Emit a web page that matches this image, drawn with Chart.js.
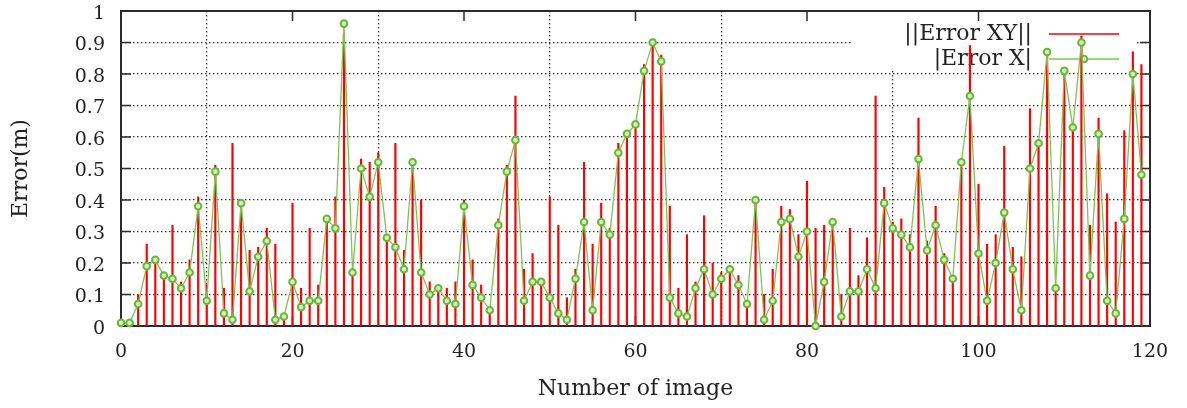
<!DOCTYPE html>
<html>
<head>
<meta charset="utf-8">
<title>Error per image</title>
<script src="https://cdn.jsdelivr.net/npm/chart.js@4/dist/chart.umd.min.js"></script>
<style>
    html, body { margin: 0; padding: 0; background: #fff; }
    #wrap { width: 1187px; height: 408px; }
</style>
</head>
<body>
<div id="wrap"><canvas id="error-chart" width="1187" height="408"></canvas></div>
<script>
// --- Data ---
const imageNumbers = Array.from({ length: 120 }, (_, i) => i);

// ||Error XY|| (red impulses)
const errorXY = [
    0.01, 0.02, 0.10, 0.26, 0.20, 0.16, 0.32, 0.14, 0.21, 0.41,
    0.13, 0.51, 0.12, 0.58, 0.39, 0.24, 0.25, 0.31, 0.26, 0.03,
    0.39, 0.12, 0.31, 0.13, 0.34, 0.41, 0.93, 0.17, 0.53, 0.52,
    0.55, 0.28, 0.58, 0.24, 0.51, 0.40, 0.14, 0.13, 0.12, 0.14,
    0.40, 0.21, 0.13, 0.05, 0.34, 0.51, 0.73, 0.18, 0.23, 0.14,
    0.41, 0.32, 0.09, 0.18, 0.52, 0.26, 0.39, 0.31, 0.58, 0.61,
    0.64, 0.83, 0.90, 0.86, 0.38, 0.12, 0.29, 0.14, 0.35, 0.20,
    0.17, 0.18, 0.16, 0.07, 0.40, 0.10, 0.18, 0.38, 0.37, 0.29,
    0.46, 0.31, 0.32, 0.33, 0.10, 0.31, 0.16, 0.28, 0.73, 0.44,
    0.33, 0.34, 0.29, 0.66, 0.27, 0.38, 0.23, 0.15, 0.52, 0.89,
    0.45, 0.26, 0.29, 0.57, 0.25, 0.22, 0.69, 0.58, 0.87, 0.12,
    0.81, 0.63, 0.92, 0.32, 0.66, 0.42, 0.33, 0.62, 0.87, 0.83
];

// |Error X| (green line with points)
const errorX = [
    0.01, 0.01, 0.07, 0.19, 0.21, 0.16, 0.15, 0.12, 0.17, 0.38,
    0.08, 0.49, 0.04, 0.02, 0.39, 0.11, 0.22, 0.27, 0.02, 0.03,
    0.14, 0.06, 0.08, 0.08, 0.34, 0.31, 0.96, 0.17, 0.50, 0.41,
    0.52, 0.28, 0.25, 0.18, 0.52, 0.17, 0.10, 0.12, 0.08, 0.07,
    0.38, 0.13, 0.09, 0.05, 0.32, 0.49, 0.59, 0.08, 0.14, 0.14,
    0.09, 0.04, 0.02, 0.15, 0.33, 0.05, 0.33, 0.29, 0.55, 0.61,
    0.64, 0.81, 0.90, 0.84, 0.09, 0.04, 0.03, 0.12, 0.18, 0.10,
    0.15, 0.18, 0.13, 0.07, 0.40, 0.02, 0.08, 0.33, 0.34, 0.22,
    0.30, 0.00, 0.14, 0.33, 0.03, 0.11, 0.11, 0.18, 0.12, 0.39,
    0.31, 0.29, 0.25, 0.53, 0.24, 0.32, 0.21, 0.15, 0.52, 0.73,
    0.23, 0.08, 0.20, 0.36, 0.18, 0.05, 0.50, 0.58, 0.87, 0.12,
    0.81, 0.63, 0.90, 0.16, 0.61, 0.08, 0.04, 0.34, 0.80, 0.48
];

const seriesLabels = ['||Error XY||', '|Error X|'];
const xTitle = 'Number of image';
const yTitle = 'Error(m)';

document.addEventListener('DOMContentLoaded', () => {
    const RED = '#ff0000';
    const GREEN_LINE = '#7cc552';
    const GREEN_POINT = '#66b833';
    const POINT_FILL = '#d6ecc4';
    const FRAME = '#2b2b2b';
    const SERIF = '"DejaVu Serif", serif';

    /**
     * Draws the opaque key box, frame, inward ticks and the key entries
     * after the grid but before the data.
     */
    const framePlugin = {
        id: 'gnuplotFrame',
        beforeDatasetsDraw(chart) {
            const { ctx, chartArea: a, scales } = chart;
            ctx.save();

            // opaque key box hides the grid behind it
            ctx.fillStyle = '#fff';
            ctx.fillRect(852, a.top + 1, 283, 58);

            // border
            ctx.strokeStyle = FRAME;
            ctx.lineWidth = 2;
            ctx.strokeRect(a.left, a.top, a.right - a.left, a.bottom - a.top);

            // inward major ticks on all four sides
            const len = 10;
            ctx.lineWidth = 1.5;
            ctx.beginPath();
            scales.x.ticks.forEach(t => {
                const px = scales.x.getPixelForValue(t.value);
                ctx.moveTo(px, a.bottom); ctx.lineTo(px, a.bottom - len);
                ctx.moveTo(px, a.top); ctx.lineTo(px, a.top + len);
            });
            scales.y.ticks.forEach(t => {
                const py = scales.y.getPixelForValue(t.value);
                ctx.moveTo(a.left, py); ctx.lineTo(a.left + len, py);
                ctx.moveTo(a.right, py); ctx.lineTo(a.right - len, py);
            });
            ctx.stroke();

            // key entries
            const textRight = 1032;
            const lineFrom = 1049, lineTo = 1119;
            const rows = [34, 59];
            ctx.font = `22px ${SERIF}`;
            ctx.fillStyle = '#222';
            ctx.textAlign = 'right';
            ctx.textBaseline = 'middle';
            seriesLabels.forEach((label, i) => ctx.fillText(label, textRight, rows[i]));

            ctx.lineWidth = 1.3;
            ctx.strokeStyle = RED;
            ctx.beginPath();
            ctx.moveTo(lineFrom, rows[0]); ctx.lineTo(lineTo, rows[0]);
            ctx.stroke();

            ctx.strokeStyle = GREEN_LINE;
            ctx.beginPath();
            ctx.moveTo(lineFrom, rows[1]); ctx.lineTo(lineTo, rows[1]);
            ctx.stroke();

            ctx.fillStyle = POINT_FILL;
            ctx.strokeStyle = GREEN_POINT;
            ctx.lineWidth = 2;
            ctx.beginPath();
            ctx.arc((lineFrom + lineTo) / 2, rows[1], 3.3, 0, Math.PI * 2);
            ctx.fill();
            ctx.stroke();

            ctx.restore();
        }
    };

    const ctx = document.getElementById('error-chart').getContext('2d');
    new Chart(ctx, {
        type: 'line',
        data: {
            datasets: [
                {
                    type: 'bar',
                    label: seriesLabels[0],
                    data: imageNumbers.map((n, i) => ({ x: n, y: errorXY[i] })),
                    backgroundColor: RED,
                    borderWidth: 0,
                    barThickness: 1.5,
                    grouped: false,
                    order: 2
                },
                {
                    type: 'line',
                    label: seriesLabels[1],
                    data: imageNumbers.map((n, i) => ({ x: n, y: errorX[i] })),
                    borderColor: GREEN_LINE,
                    borderWidth: 1.3,
                    pointRadius: 3.3,
                    pointBorderWidth: 2,
                    pointBorderColor: GREEN_POINT,
                    pointBackgroundColor: POINT_FILL,
                    tension: 0,
                    clip: false,
                    order: 1
                }
            ]
        },
        options: {
            responsive: false,
            animation: false,
            layout: { padding: { left: 0, right: 37, top: 11, bottom: 0 } },
            plugins: {
                legend: { display: false },
                tooltip: { enabled: false }
            },
            scales: {
                x: {
                    type: 'linear',
                    min: 0,
                    max: 120,
                    offset: false,
                    ticks: {
                        stepSize: 20,
                        padding: 15,
                        color: '#222',
                        font: { family: SERIF, size: 19 }
                    },
                    grid: {
                        drawTicks: false,
                        color: ctx => (ctx.tick && (ctx.tick.value === 0 || ctx.tick.value === 120)) ? 'rgba(0,0,0,0)' : '#333',
                        lineWidth: 1.2
                    },
                    border: { display: false, dash: [1.5, 2.5] },
                    title: {
                        display: true,
                        text: xTitle,
                        color: '#222',
                        font: { family: SERIF, size: 22 },
                        padding: { top: 0, bottom: 6 }
                    },
                    afterFit: s => {
                        s.height = 82;
                        s.paddingLeft = 0;
                        s.paddingRight = 0;
                    }
                },
                y: {
                    min: 0,
                    max: 1,
                    ticks: {
                        stepSize: 0.1,
                        padding: 16,
                        labelOffset: 3,
                        color: '#222',
                        font: { family: SERIF, size: 19 },
                        callback: v => String(Math.round(v * 10) / 10)
                    },
                    grid: {
                        drawTicks: false,
                        color: ctx => (ctx.tick && (ctx.tick.value <= 0.001 || ctx.tick.value >= 0.999)) ? 'rgba(0,0,0,0)' : '#333',
                        lineWidth: 1.2
                    },
                    border: { display: false, dash: [1.5, 2.5] },
                    title: {
                        display: true,
                        text: yTitle,
                        color: '#222',
                        font: { family: SERIF, size: 22 },
                        padding: { top: 8, bottom: 0 }
                    },
                    afterFit: s => {
                        s.width = 121;
                        s.paddingTop = 0;
                        s.paddingBottom = 0;
                    }
                }
            }
        },
        plugins: [framePlugin]
    });
});
</script>
</body>
</html>
